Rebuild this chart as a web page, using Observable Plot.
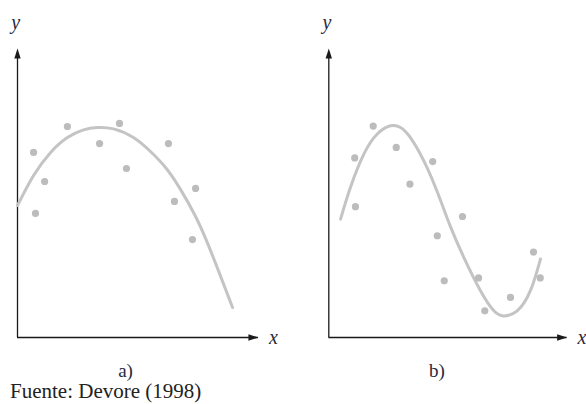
<!DOCTYPE html>
<html>
<head>
<meta charset="utf-8">
<script src="https://cdn.jsdelivr.net/npm/d3@7"></script>
<script src="https://cdn.jsdelivr.net/npm/@observablehq/plot@0.6"></script>
<style>
  html, body { margin: 0; padding: 0; background: #fff; }
  #wrap { position: relative; width: 586px; height: 404px; overflow: hidden; }
  #wrap svg { position: absolute; top: 0; }
  #caption {
    position: absolute; left: 10px; top: 379px;
    font-family: "Liberation Serif", "Times New Roman", serif;
    font-size: 21px; color: #222; white-space: nowrap;
  }
</style>
</head>
<body>
<div id="wrap">
  <div id="caption">Fuente: Devore (1998)</div>
</div>
<script>
// Panel a) — observations and a fitted quadratic-like curve
const aPointX = [0.67, 1.13, 0.75, 2.08, 3.42, 4.25, 4.54, 6.29, 6.54, 7.42, 7.29];
const aPointY = [7.71, 6.50, 5.17, 8.79, 8.08, 8.92, 7.04, 8.08, 5.67, 6.21, 4.08];
const aCurveX = [0.00, 0.67, 1.38, 2.08, 2.75, 3.33, 4.00, 4.83, 5.54, 6.17, 6.79, 7.42, 8.04, 8.96];
const aCurveY = [5.50, 6.75, 7.71, 8.33, 8.65, 8.75, 8.69, 8.33, 7.75, 7.08, 6.17, 5.04, 3.63, 1.25];

// Panel b) — observations and a fitted cubic-like curve
const bPointX = [1.85, 1.08, 2.81, 4.33, 3.38, 1.11, 5.57, 4.52, 4.81, 6.24, 6.50, 7.57, 8.53, 8.81];
const bPointY = [8.81, 7.48, 7.92, 7.33, 6.39, 5.45, 5.04, 4.24, 2.36, 2.48, 1.11, 1.67, 3.56, 2.48];
const bCurveX = [0.49, 0.90, 1.46, 2.02, 2.57, 2.99, 3.40, 3.96, 4.53, 5.07, 5.63, 6.32, 6.88, 7.29, 7.85, 8.40, 8.82];
const bCurveY = [4.93, 6.25, 7.64, 8.48, 8.82, 8.75, 8.33, 7.36, 6.04, 4.62, 3.33, 1.95, 1.11, 0.90, 1.11, 1.95, 3.27];

const panelLabels = ["a)", "b)"];
const axisNames = ["x", "y"];

const zip = (xs, ys) => xs.map((x, i) => ({x, y: ys[i]}));

// Narrow filled arrowhead with its tip at the symbol origin, pointing up
const arrowHead = {
  draw(ctx) {
    ctx.moveTo(0, 0);
    ctx.lineTo(3.2, 10);
    ctx.lineTo(-3.2, 10);
    ctx.closePath();
  }
};

const dotColor = "#bcbcbc";
const curveColor = "#c4c4c4";
const axisColor = "#1a1a1a";
const serif = "'Liberation Serif', 'Times New Roman', serif";

function panel({points, curve, label, left, marginLeft, width, xMax}) {
  const yMax = 12.04;
  const svg = Plot.plot({
    width, height: 380,
    marginLeft, marginRight: width - marginLeft - xMax * 24,
    marginTop: 48, marginBottom: 43,
    x: {domain: [0, xMax], axis: null},
    y: {domain: [0, yMax], axis: null},
    style: {background: "transparent", overflow: "visible", fontFamily: serif},
    marks: [
      Plot.ruleY([0], {x1: 0, x2: xMax, stroke: axisColor, strokeWidth: 1.3}),
      Plot.ruleX([0], {y1: 0, y2: yMax - 0.2, stroke: axisColor, strokeWidth: 1.3}),
      Plot.dot([{x: 0, y: yMax}], {x: "x", y: "y", symbol: arrowHead, fill: axisColor, stroke: null}),
      Plot.dot([{x: xMax, y: 0}], {x: "x", y: "y", symbol: arrowHead, rotate: 90, fill: axisColor, stroke: null}),
      Plot.line(curve, {x: "x", y: "y", curve: "natural", stroke: curveColor, strokeWidth: 3}),
      Plot.dot(points, {x: "x", y: "y", r: 3.6, fill: dotColor, stroke: null}),
      Plot.text([{x: -0.08, y: 13.1}], {x: "x", y: "y", text: () => axisNames[1],
        fontFamily: serif, fontStyle: "italic", fontSize: 20, fill: "#2a2a3a"}),
      Plot.text([{x: xMax + 0.62, y: 0}], {x: "x", y: "y", text: () => axisNames[0],
        fontFamily: serif, fontStyle: "italic", fontSize: 20, fill: "#2a2a3a"}),
      Plot.text([{x: 4.5, y: -1.38}], {x: "x", y: "y", text: () => label,
        fontFamily: serif, fontSize: 19, fill: "#2a2a3a"})
    ]
  });
  svg.style.left = left + "px";
  return svg;
}

const wrap = document.getElementById("wrap");
wrap.appendChild(panel({
  points: zip(aPointX, aPointY), curve: zip(aCurveX, aCurveY),
  label: panelLabels[0], left: 0, marginLeft: 17, width: 290, xMax: 10.04
}));
wrap.appendChild(panel({
  points: zip(bPointX, bPointY), curve: zip(bCurveX, bCurveY),
  label: panelLabels[1], left: 300, marginLeft: 28.3, width: 286, xMax: 9.93
}));
</script>
</body>
</html>
